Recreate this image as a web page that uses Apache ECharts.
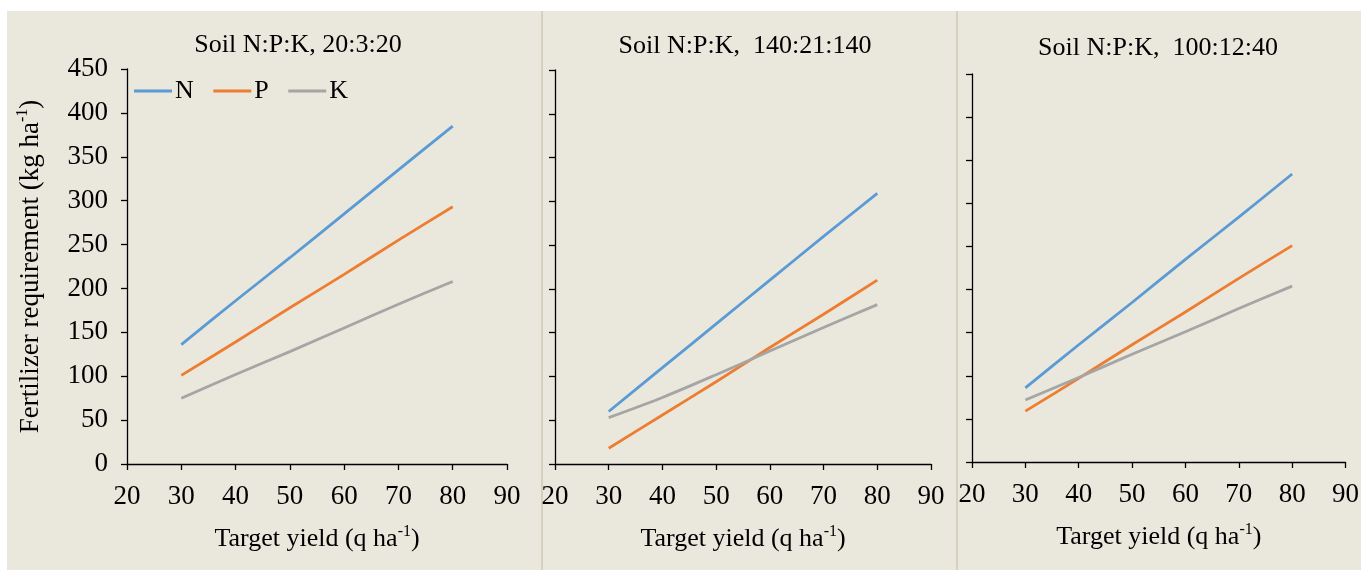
<!DOCTYPE html>
<html>
<head>
<meta charset="utf-8">
<script src="https://cdn.jsdelivr.net/npm/echarts@6/dist/echarts.min.js"></script>
<style>
html,body{margin:0;padding:0;background:#fff;}
#bg{position:absolute;left:7px;top:11px;width:1354px;height:559px;background:#EAE7DD;}
.sep{position:absolute;top:11px;width:2px;height:559px;background:#D6D0BF;}
#chart{position:absolute;left:0;top:0;width:1362px;height:570px;}
</style>
</head>
<body>
<div id="bg"></div>
<div class="sep" style="left:541px"></div>
<div class="sep" style="left:956px"></div>
<div id="chart"></div>
<script>
// ---- data ----
const targetYield = [30, 40, 50, 60, 70, 80];
const nutrientNames = ['N', 'P', 'K'];
const panelTitles = ['Soil N:P:K, 20:3:20', 'Soil N:P:K,  140:21:140', 'Soil N:P:K,  100:12:40'];
const xTicks = [20, 30, 40, 50, 60, 70, 80, 90];
const yTicks = [0, 50, 100, 150, 200, 250, 300, 350, 400, 450];

const panel1N = [136, 186, 235, 285, 335, 385];
const panel1P = [101, 139, 178, 216, 255, 293];
const panel1K = [75, 102, 128, 155, 182, 208];

const panel2N = [60, 110, 160, 210, 260, 309];
const panel2P = [18, 56, 94, 133, 171, 210];
const panel2K = [53, 76, 102, 129, 156, 182];

const panel3N = [86, 136, 185, 235, 284, 334];
const panel3P = [59, 97, 136, 174, 213, 251];
const panel3K = [72, 98, 125, 151, 178, 204];

// ---- styling ----
const FONT = '"Liberation Serif", "Times New Roman", serif';
const colors = {N: '#5B9BD5', P: '#ED7D31', K: '#A5A5A5'};
const panels = [
  {data: [panel1N, panel1P, panel1K], grid: {left: 127, top: 69, width: 380, height: 395}, titleX: 298, titleY: 45, showY: true},
  {data: [panel2N, panel2P, panel2K], grid: {left: 555, top: 70, width: 376, height: 394}, titleX: 745, titleY: 46, showY: false},
  {data: [panel3N, panel3P, panel3K], grid: {left: 972, top: 74, width: 375, height: 388}, titleX: 1158, titleY: 48, showY: false}
];

function rich(size) {
  return {
    t: {fontSize: size, fontFamily: FONT, color: '#000', lineHeight: size + 5},
    s: {fontSize: Math.round(size * 0.6), fontFamily: FONT, color: '#000', lineHeight: Math.round(size * 0.6), verticalAlign: 'top'}
  };
}

const axisLine = {show: true, lineStyle: {color: '#000', width: 1.3}};
const axisTick = {show: true, inside: false, length: 6, lineStyle: {color: '#000', width: 1.3}};

const grids = [], xAxes = [], yAxes = [], series = [], graphics = [];
panels.forEach((p, i) => {
  grids.push(Object.assign({containLabel: false}, p.grid));
  xAxes.push({
    type: 'value', gridIndex: i, min: xTicks[0], max: xTicks[xTicks.length - 1], interval: 10,
    axisLine, axisTick, splitLine: {show: false},
    axisLabel: {fontSize: 27, fontFamily: FONT, color: '#000', margin: 19},
    name: '{t|Target yield (q ha}{s|-1}{t|)}',
    nameLocation: 'middle', nameGap: 60,
    nameTextStyle: {rich: rich(26)}
  });
  const y = {
    type: 'value', gridIndex: i, min: yTicks[0], max: yTicks[yTicks.length - 1], interval: 50,
    axisLine, axisTick, splitLine: {show: false},
    axisLabel: {show: p.showY, fontSize: 27, fontFamily: FONT, color: '#000', margin: 19}
  };
  if (p.showY) {
    y.name = '{t|Fertilizer requirement (kg ha}{s|-1}{t|)}';
    y.nameLocation = 'middle';
    y.nameRotate = 90;
    y.nameGap = 80;
    y.nameTextStyle = {rich: rich(27)};
  }
  yAxes.push(y);
  p.data.forEach((vals, k) => {
    const nm = nutrientNames[k];
    series.push({
      name: nm, type: 'line', xAxisIndex: i, yAxisIndex: i,
      data: targetYield.map((x, j) => [x, vals[j]]),
      symbol: 'none', smooth: 0.3,
      lineStyle: {color: colors[nm], width: 2.8},
      itemStyle: {color: colors[nm]},
      emphasis: {disabled: true}
    });
  });
  graphics.push({
    type: 'text', x: p.titleX, y: p.titleY,
    style: {text: panelTitles[i], fontSize: 26, fontFamily: FONT, fill: '#000', align: 'center', verticalAlign: 'middle'}
  });
});

const chart = echarts.init(document.getElementById('chart'), null, {renderer: 'canvas'});
chart.setOption({
  animation: false,
  backgroundColor: 'transparent',
  grid: grids,
  xAxis: xAxes,
  yAxis: yAxes,
  series: series,
  legend: {
    data: nutrientNames, left: 129, top: 73, icon: 'rect', itemWidth: 38, itemHeight: 3,
    itemGap: 19.5, textStyle: {fontSize: 26, fontFamily: FONT, color: '#000', padding: [0, 0, 0, -2]}
  },
  graphic: graphics
});
</script>
</body>
</html>
